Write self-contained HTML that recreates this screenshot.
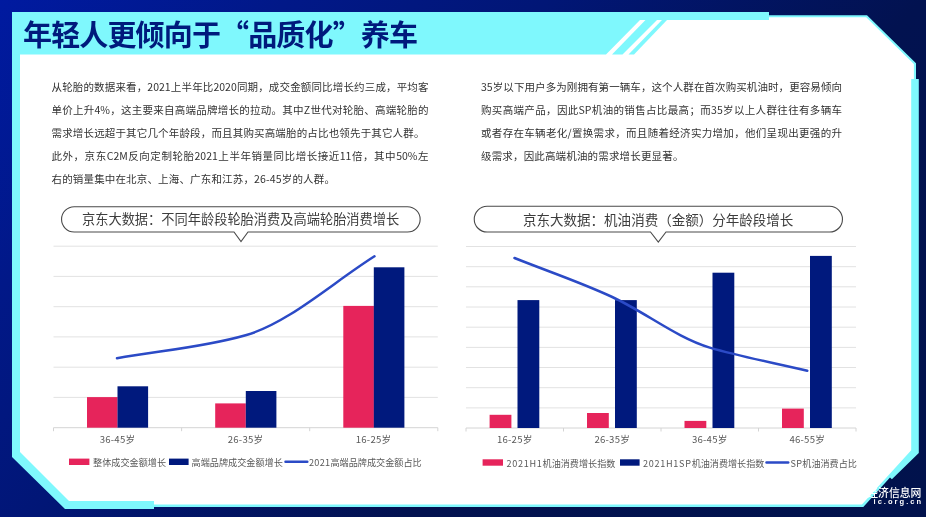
<!DOCTYPE html>
<html lang="zh-CN">
<head>
<meta charset="utf-8">
<title>年轻人更倾向于“品质化”养车</title>
<style>
html,body{margin:0;padding:0;}
body{width:926px;height:517px;overflow:hidden;position:relative;background:#03104f;font-family:"Liberation Sans","Noto Sans CJK SC",sans-serif;}
#bg{position:absolute;left:0;top:0;width:926px;height:517px;background:linear-gradient(135deg,#001aa0 0%,#011888 20%,#011676 38%,#021250 64%,#01124c 100%);}
svg{position:absolute;left:0;top:0;}
.t{position:absolute;white-space:nowrap;}
#title{left:23px;top:11.5px;font-family:"Noto Sans CJK SC",sans-serif;font-weight:bold;font-size:29px;line-height:42px;color:#001a7c;letter-spacing:-0.85px;}
.p{font-family:"Noto Sans CJK SC","Liberation Sans",sans-serif;font-size:10.5px;line-height:23px;height:23px;color:#333;text-align:justify;text-align-last:justify;}
.p.last{text-align-last:left;letter-spacing:.16px;}
.bt{font-family:"Noto Sans CJK SC","Liberation Sans",sans-serif;font-size:13.33px;line-height:20px;color:#3d3d3d;}
.ax{font-family:"Noto Sans CJK SC","Liberation Sans",sans-serif;font-size:9.6px;line-height:12px;color:#595959;text-align:center;width:80px;letter-spacing:.25px;}
.lg{font-family:"Noto Sans CJK SC","Liberation Sans",sans-serif;font-size:9.15px;line-height:12px;color:#595959;}
#rl .lg,.lg.r{font-size:9.1px;}
.n{letter-spacing:.7px;}
.m{letter-spacing:.3px;}
.wm{font-family:"Noto Sans CJK SC","Liberation Sans",sans-serif;color:#fff;font-weight:bold;}
</style>
</head>
<body>
<div id="bg"></div>
<svg width="926" height="517" viewBox="0 0 926 517">
  <!-- thin cyan outline -->
  <polygon points="12,12 769,12 769,15.2 867,15.2 916,63.2 916,79 918.8,79 918.8,453.1 891.9,479.3 890,477.6 863.3,507 154,507 154,509 65,509 12,457" fill="#7ff8fd"/>
  <!-- white panel -->
  <polygon points="20,20 769,20 769,17.3 866.2,17.3 913.9,64 913.9,79 911.2,79 911.2,450.2 861.9,504.5 154,504.5 154,501 69,501 20,452" fill="#ffffff"/>
  <!-- title cyan block -->
  <polygon points="12,12 769,12 769,20 640,20 606,54.5 12,54.5" fill="#7ff8fd"/>
  <polygon points="20,54.5 12,54.5 12,457 20,452" fill="#7ff8fd"/>
  <polygon points="645.5,20 657,20 622.5,54.5 612,54.5" fill="#7ff8fd"/>
  <polygon points="662,20 667,20 634,54.5 628.5,54.5" fill="#7ff8fd"/>
  <!-- charts -->
  <line x1="53.5" y1="246.2" x2="437.8" y2="246.2" stroke="#e2e2e2" stroke-width="1"/>
  <line x1="53.5" y1="276.4" x2="437.8" y2="276.4" stroke="#e2e2e2" stroke-width="1"/>
  <line x1="53.5" y1="306.7" x2="437.8" y2="306.7" stroke="#e2e2e2" stroke-width="1"/>
  <line x1="53.5" y1="336.9" x2="437.8" y2="336.9" stroke="#e2e2e2" stroke-width="1"/>
  <line x1="53.5" y1="367.2" x2="437.8" y2="367.2" stroke="#e2e2e2" stroke-width="1"/>
  <line x1="53.5" y1="397.4" x2="437.8" y2="397.4" stroke="#e2e2e2" stroke-width="1"/>
  <line x1="53.5" y1="427.7" x2="437.8" y2="427.7" stroke="#d4d4d4" stroke-width="1"/>
  <line x1="53.5" y1="427.7" x2="53.5" y2="431.2" stroke="#d4d4d4" stroke-width="1"/>
  <line x1="181.6" y1="427.7" x2="181.6" y2="431.2" stroke="#d4d4d4" stroke-width="1"/>
  <line x1="309.7" y1="427.7" x2="309.7" y2="431.2" stroke="#d4d4d4" stroke-width="1"/>
  <line x1="437.8" y1="427.7" x2="437.8" y2="431.2" stroke="#d4d4d4" stroke-width="1"/>
  <rect x="87" y="397.1" width="30.6" height="30.6" fill="#e6245b"/>
  <rect x="117.5" y="386.3" width="30.6" height="41.4" fill="#00197d"/>
  <rect x="215.2" y="403.4" width="30.6" height="24.3" fill="#e6245b"/>
  <rect x="245.8" y="391" width="30.6" height="36.7" fill="#00197d"/>
  <rect x="343.3" y="305.9" width="30.6" height="121.8" fill="#e6245b"/>
  <rect x="373.8" y="267.3" width="30.6" height="160.4" fill="#00197d"/>
  <path d="M117,358.3 C159.9,350.6 202.7,347.6 245.6,335.3 C288.5,323 331.5,283.5 374.5,256.3" fill="none" stroke="#2b4ac6" stroke-width="2.5" stroke-linecap="round"/>
  <line x1="466" y1="246.5" x2="856" y2="246.5" stroke="#e2e2e2" stroke-width="1"/>
  <line x1="466" y1="266.7" x2="856" y2="266.7" stroke="#e2e2e2" stroke-width="1"/>
  <line x1="466" y1="286.8" x2="856" y2="286.8" stroke="#e2e2e2" stroke-width="1"/>
  <line x1="466" y1="307.0" x2="856" y2="307.0" stroke="#e2e2e2" stroke-width="1"/>
  <line x1="466" y1="327.2" x2="856" y2="327.2" stroke="#e2e2e2" stroke-width="1"/>
  <line x1="466" y1="347.4" x2="856" y2="347.4" stroke="#e2e2e2" stroke-width="1"/>
  <line x1="466" y1="367.5" x2="856" y2="367.5" stroke="#e2e2e2" stroke-width="1"/>
  <line x1="466" y1="387.7" x2="856" y2="387.7" stroke="#e2e2e2" stroke-width="1"/>
  <line x1="466" y1="407.9" x2="856" y2="407.9" stroke="#e2e2e2" stroke-width="1"/>
  <line x1="466" y1="428.0" x2="856" y2="428.0" stroke="#d4d4d4" stroke-width="1"/>
  <line x1="466" y1="428.0" x2="466" y2="431.5" stroke="#d4d4d4" stroke-width="1"/>
  <line x1="563.5" y1="428.0" x2="563.5" y2="431.5" stroke="#d4d4d4" stroke-width="1"/>
  <line x1="661" y1="428.0" x2="661" y2="431.5" stroke="#d4d4d4" stroke-width="1"/>
  <line x1="758.5" y1="428.0" x2="758.5" y2="431.5" stroke="#d4d4d4" stroke-width="1"/>
  <line x1="856" y1="428.0" x2="856" y2="431.5" stroke="#d4d4d4" stroke-width="1"/>
  <rect x="489.6" y="414.8" width="21.8" height="13.2" fill="#e6245b"/>
  <rect x="517.5" y="300.1" width="21.8" height="127.9" fill="#00197d"/>
  <rect x="587.0" y="413" width="21.8" height="15.0" fill="#e6245b"/>
  <rect x="615.0" y="300.1" width="21.8" height="127.9" fill="#00197d"/>
  <rect x="684.5" y="420.9" width="21.8" height="7.1" fill="#e6245b"/>
  <rect x="712.5" y="272.7" width="21.8" height="155.3" fill="#00197d"/>
  <rect x="782.0" y="408.6" width="21.8" height="19.4" fill="#e6245b"/>
  <rect x="810.0" y="255.9" width="21.8" height="172.1" fill="#00197d"/>
  <path d="M514.5,258 C547,271 580,282 612.25,297 C645,312 677,338 709.75,347.6 C742,357 775,363 807.3,370.8" fill="none" stroke="#2b4ac6" stroke-width="2.5" stroke-linecap="round"/>
  <path d="M74.2,206.7 H407.5 A12.65,12.65 0 0 1 407.5,232 H248 L241,241.5 L234,232 H74.2 A12.65,12.65 0 0 1 74.2,206.7 Z" fill="#fff" stroke="#4a4a4a" stroke-width="1.1" stroke-linejoin="miter"/>
  <path d="M487.1,206.3 H829.6 A12.85,12.85 0 0 1 829.6,232 H666 L658.3,242 L650.5,232 H487.1 A12.85,12.85 0 0 1 487.1,206.3 Z" fill="#fff" stroke="#4a4a4a" stroke-width="1.1" stroke-linejoin="miter"/>
  <rect x="69" y="458.6" width="20.4" height="6.4" fill="#e6245b"/>
  <rect x="169" y="458.6" width="19.6" height="6.4" fill="#00197d"/>
  <line x1="285.5" y1="461.8" x2="307.3" y2="461.8" stroke="#2b4ac6" stroke-width="2.5" stroke-linecap="round"/>
  <rect x="482.6" y="459.3" width="20.4" height="6.4" fill="#e6245b"/>
  <rect x="620" y="459.3" width="19.6" height="6.4" fill="#00197d"/>
  <line x1="766.5" y1="462.5" x2="788.2" y2="462.5" stroke="#2b4ac6" stroke-width="2.5" stroke-linecap="round"/>
</svg>
<div id="title" class="t">年轻人更倾向于“品质化”养车</div>
<div class="t p" style="left:51.5px;top:75px;width:377px;">从轮胎的数据来看，2021上半年比2020同期，成交金额同比增长约三成，平均客</div>
<div class="t p" style="left:51.5px;top:98px;width:377px;">单价上升4%，这主要来自高端品牌增长的拉动。其中Z世代对轮胎、高端轮胎的</div>
<div class="t p last" style="left:51.5px;top:121px;width:377px;">需求增长远超于其它几个年龄段，而且其购买高端胎的占比也领先于其它人群。</div>
<div class="t p" style="left:51.5px;top:144px;width:377px;">此外，京东C2M反向定制轮胎2021上半年销量同比增长接近11倍，其中50%左</div>
<div class="t p last" style="left:51.5px;top:167px;width:377px;">右的销量集中在北京、上海、广东和江苏，26-45岁的人群。</div>
<div class="t p" style="left:481px;top:75px;width:361px;">35岁以下用户多为刚拥有第一辆车，这个人群在首次购买机油时，更容易倾向</div>
<div class="t p" style="left:481px;top:98px;width:361px;">购买高端产品，因此SP机油的销售占比最高；而35岁以上人群往往有多辆车</div>
<div class="t p" style="left:481px;top:121px;width:361px;">或者存在车辆老化/置换需求，而且随着经济实力增加，他们呈现出更强的升</div>
<div class="t p last" style="left:481px;top:144px;width:361px;">级需求，因此高端机油的需求增长更显著。</div>
<div class="t bt" style="left:82px;top:208.5px;font-size:13.22px;">京东大数据：不同年龄段轮胎消费及高端轮胎消费增长</div>
<div class="t bt" style="left:523px;top:208.5px;font-size:13.52px;">京东大数据：机油消费（金额）分年龄段增长</div>
<div class="t ax" style="left:77.5px;top:433.2px;">36-45岁</div>
<div class="t ax" style="left:205.6px;top:433.2px;">26-35岁</div>
<div class="t ax" style="left:333.6px;top:433.2px;">16-25岁</div>
<div class="t ax" style="left:474.75px;top:433.2px;">16-25岁</div>
<div class="t ax" style="left:572.25px;top:433.2px;">26-35岁</div>
<div class="t ax" style="left:669.75px;top:433.2px;">36-45岁</div>
<div class="t ax" style="left:767.25px;top:433.2px;">46-55岁</div>
<div class="t lg" style="left:93px;top:456px;">整体成交金额增长</div>
<div class="t lg" style="left:191.5px;top:456px;">高端品牌成交金额增长</div>
<div class="t lg" style="left:309px;top:456px;"><span class="m">2021</span>高端品牌成交金额占比</div>
<div class="t lg r" style="left:506.5px;top:456.5px;"><span class="n">2021H1</span>机油消费增长指数</div>
<div class="t lg r" style="left:643px;top:456.5px;"><span class="n">2021H1SP</span>机油消费增长指数</div>
<div class="t lg r" style="left:790.5px;top:456.5px;"><span class="m">SP</span>机油消费占比</div>
<div class="t wm" style="left:867.3px;top:484.8px;font-size:10.8px;line-height:14px;font-weight:500;">经济信息网</div>
<div class="t wm" style="left:873.5px;top:496.3px;font-family:'Liberation Sans',sans-serif;font-size:7.5px;line-height:12px;letter-spacing:2.05px;">ic.org.cn</div>
</body>
</html>
